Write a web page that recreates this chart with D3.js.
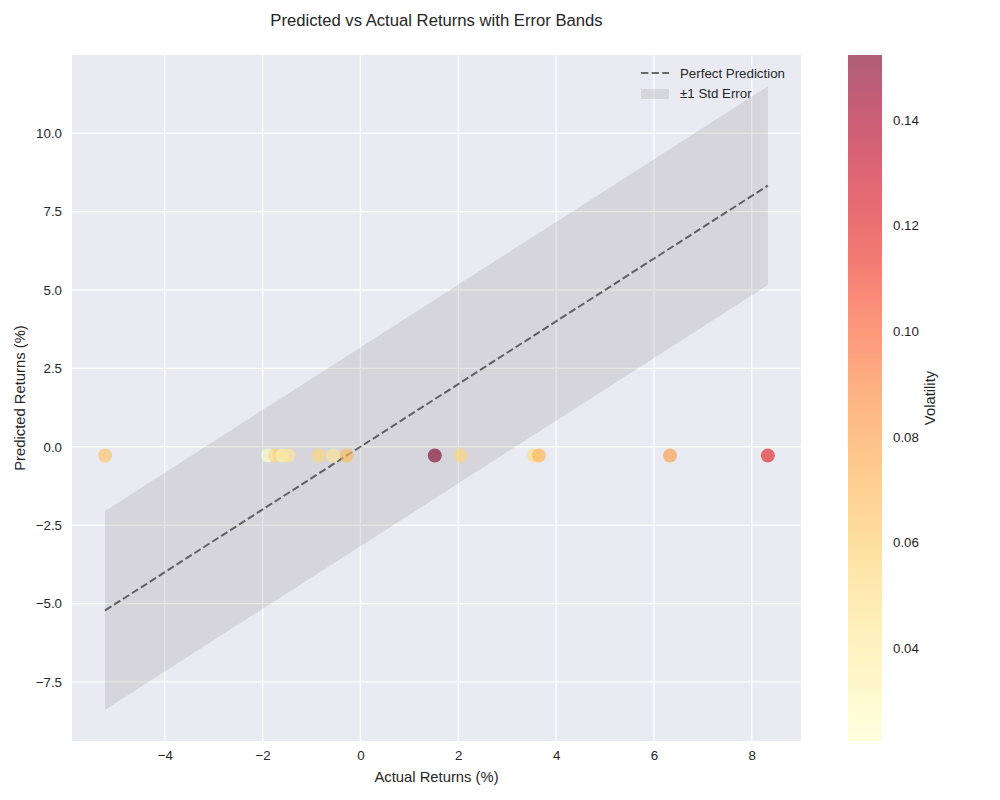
<!DOCTYPE html>
<html><head><meta charset="utf-8">
<script src="https://cdn.jsdelivr.net/npm/d3@7"></script>
<style>body{margin:0;background:#fff;} text{font-family:"Liberation Sans",Arial,sans-serif;fill:#262626;}</style>
</head><body>
<svg id="chart" width="1000" height="800"></svg>
<script>
const actual = [-5.22, -1.89, -1.74, -1.60, -1.47, -0.85, -0.56, -0.28, 1.52, 2.05, 3.55, 3.65, 6.33, 8.33];
const predicted = [-0.28, -0.28, -0.28, -0.28, -0.28, -0.28, -0.28, -0.28, -0.28, -0.28, -0.28, -0.28, -0.28, -0.28];
const volatility = [0.065, 0.0224, 0.055, 0.035, 0.045, 0.055, 0.045, 0.068, 0.1523, 0.055, 0.05, 0.07, 0.08, 0.12];
const stdError = 3.17;
const xTicks = [-4, -2, 0, 2, 4, 6, 8];
const yTicks = [-7.5, -5.0, -2.5, 0.0, 2.5, 5.0, 7.5, 10.0];
const cbTicks = [0.04, 0.06, 0.08, 0.10, 0.12, 0.14];
const legendLabels = ["Perfect Prediction", "±1 Std Error"];

const svg = d3.select("#chart");
const L = 72, R = 801, T = 55, B = 741;
const xMin = d3.min(actual), xMax = d3.max(actual);
const xPad = (xMax - xMin) * 0.05;
const x = d3.scaleLinear().domain([xMin - xPad, xMax + xPad]).range([L, R]);
const yLo = xMin - stdError, yHi = xMax + stdError;
const yPad = (yHi - yLo) * 0.05;
const y = d3.scaleLinear().domain([yLo - yPad, yHi + yPad]).range([B, T]);
const vExt = d3.extent(volatility);
const cmap = d3.scaleSequential(d3.interpolateYlOrRd).domain(vExt);
const OP = 0.63;

svg.append("rect").attr("x", L).attr("y", T).attr("width", R - L).attr("height", B - T).attr("fill", "#eaeaf2");
// grid
svg.append("g").selectAll("line").data(xTicks).join("line")
  .attr("x1", d => x(d)).attr("x2", d => x(d)).attr("y1", T).attr("y2", B)
  .attr("stroke", "#fff").attr("stroke-width", 1.3);
svg.append("g").selectAll("line").data(yTicks).join("line")
  .attr("y1", d => y(d)).attr("y2", d => y(d)).attr("x1", L).attr("x2", R)
  .attr("stroke", "#fff").attr("stroke-width", 1.3);

// band
const sorted = actual.slice().sort((a, b) => a - b);
const band = d3.area().x(d => x(d)).y0(d => y(d - stdError)).y1(d => y(d + stdError));
svg.append("path").datum(sorted).attr("d", band).attr("fill", "gray").attr("fill-opacity", 0.2);

// perfect line
svg.append("line")
  .attr("x1", x(xMin)).attr("y1", y(xMin)).attr("x2", x(xMax)).attr("y2", y(xMax))
  .attr("stroke", "#000").attr("stroke-opacity", 0.55).attr("stroke-width", 2)
  .attr("stroke-dasharray", "7.4,3.2");

// points
svg.append("g").selectAll("circle").data(actual.map((a, i) => ({a, p: predicted[i], v: volatility[i]}))).join("circle")
  .attr("cx", d => x(d.a)).attr("cy", d => y(d.p)).attr("r", 7)
  .attr("fill", d => cmap(d.v)).attr("fill-opacity", OP);

// axes
const FS = 13.3;
const xAxis = svg.append("g").attr("transform", `translate(0,${B})`)
  .call(d3.axisBottom(x).tickValues(xTicks).tickSize(0).tickPadding(10).tickFormat(d => d < 0 ? "\u2212" + Math.abs(d) : d));
const yAxis = svg.append("g").attr("transform", `translate(${L},0)`)
  .call(d3.axisLeft(y).tickValues(yTicks).tickSize(0).tickPadding(10).tickFormat(d => (d < 0 ? "\u2212" : "") + Math.abs(d).toFixed(1)));
[xAxis, yAxis].forEach(g => { g.select(".domain").remove(); g.selectAll("text").attr("font-size", FS).attr("fill", "#262626").attr("font-family", "Liberation Sans, Arial, sans-serif"); });

svg.append("text").attr("x", (L + R) / 2).attr("y", 782).attr("text-anchor", "middle").attr("font-size", 14.8).text("Actual Returns (%)");
svg.append("text").attr("transform", `translate(25,${(T + B) / 2}) rotate(-90)`).attr("text-anchor", "middle").attr("font-size", 14.8).text("Predicted Returns (%)");
svg.append("text").attr("x", (L + R) / 2).attr("y", 26).attr("text-anchor", "middle").attr("font-size", 16.67).text("Predicted vs Actual Returns with Error Bands");

// legend
const lg = svg.append("g");
lg.append("line").attr("x1", 641).attr("x2", 669).attr("y1", 73).attr("y2", 73)
  .attr("stroke", "#000").attr("stroke-opacity", 0.55).attr("stroke-width", 2).attr("stroke-dasharray", "7.4,3.2");
lg.append("rect").attr("x", 641).attr("y", 89).attr("width", 28).attr("height", 10).attr("fill", "gray").attr("fill-opacity", 0.2);
lg.selectAll("text").data(legendLabels).join("text")
  .attr("x", 680).attr("y", (d, i) => 78 + i * 20).attr("font-size", FS).text(d => d);

// colorbar
const cbX = 848, cbW = 34;
const cy = d3.scaleLinear().domain(vExt).range([B, T]);
const defs = svg.append("defs");
const grad = defs.append("linearGradient").attr("id", "cbg").attr("x1", 0).attr("x2", 0).attr("y1", 1).attr("y2", 0);
d3.range(0, 1.0001, 0.05).forEach(t => grad.append("stop").attr("offset", t).attr("stop-color", d3.interpolateYlOrRd(t)));
svg.append("rect").attr("x", cbX).attr("y", T).attr("width", cbW).attr("height", B - T).attr("fill", "url(#cbg)").attr("fill-opacity", OP);
const cbAxis = svg.append("g").attr("transform", `translate(${cbX + cbW},0)`)
  .call(d3.axisRight(cy).tickValues(cbTicks).tickSize(0).tickPadding(11).tickFormat(d3.format(".2f")));
cbAxis.select(".domain").remove();
cbAxis.selectAll("text").attr("font-size", FS).attr("fill", "#262626").attr("font-family", "Liberation Sans, Arial, sans-serif");
svg.append("text").attr("transform", `translate(935,${(T + B) / 2}) rotate(-90)`).attr("text-anchor", "middle").attr("font-size", 14.8).text("Volatility");
</script>
</body></html>
